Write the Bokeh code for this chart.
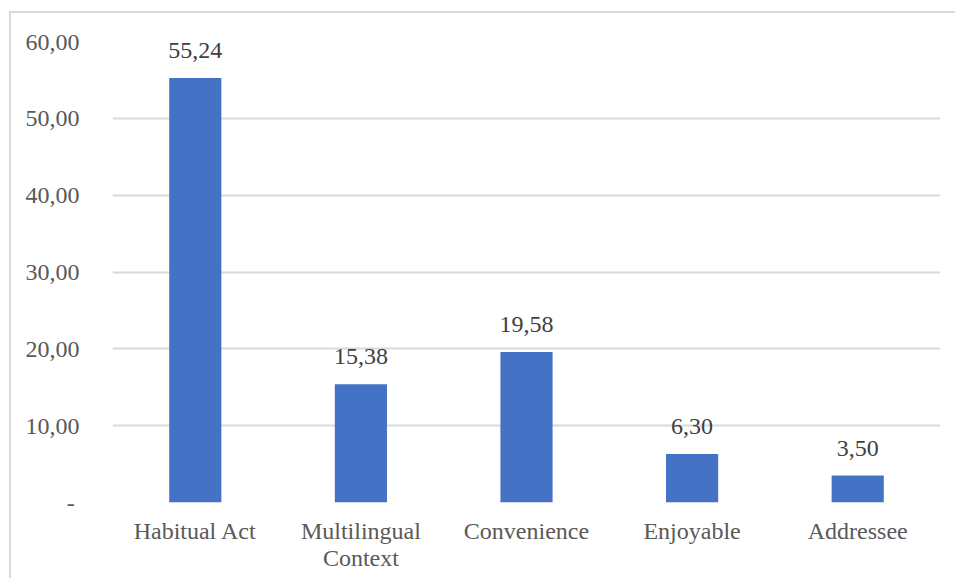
from bokeh.plotting import figure
from bokeh.models import ColumnDataSource, FixedTicker
from bokeh.core.properties import value
from bokeh.embed import file_html
from bokeh.resources import INLINE

categories = ["Habitual Act", "Multilingual\nContext", "Convenience", "Enjoyable", "Addressee"]
values = [55.24, 15.38, 19.58, 6.30, 3.50]
value_labels = ["55,24", "15,38", "19,58", "6,30", "3,50"]
y_ticks = [0, 10, 20, 30, 40, 50, 60]
y_tick_labels = ["-\u2009", "10,00", "20,00", "30,00", "40,00", "50,00", "60,00"]

FONT = "Liberation Serif"

src = ColumnDataSource(dict(x=categories, top=values, label=value_labels))

p = figure(x_range=categories, y_range=(0, 60), width=946, height=567,
           output_backend="svg", toolbar_location=None,
           min_border_left=101, min_border_right=17, min_border_top=28, min_border_bottom=78)
p.outline_line_color = None
p.background_fill_color = "white"
p.border_fill_color = "white"
p.styles = {"margin-left": "9px", "margin-top": "11px",
            "border-left": "2px solid #d9d9d9", "border-top": "2px solid #d9d9d9"}

p.vbar(x="x", top="top", width=0.315, source=src, color="#4472C4", line_color=None)
p.text(x="x", y="top", text="label", source=src, text_align="center", text_baseline="bottom",
       y_offset=-20, text_font=value(FONT), text_font_size="24px", text_color="#404040")

p.yaxis.ticker = FixedTicker(ticks=y_ticks)
p.yaxis.major_label_overrides = {t: l for t, l in zip(y_ticks, y_tick_labels)}
p.yaxis.axis_line_color = None
p.yaxis.major_tick_line_color = None
p.yaxis.minor_tick_line_color = None
p.yaxis.major_label_standoff = 27
p.yaxis.major_label_text_font = FONT
p.yaxis.major_label_text_font_size = "24px"
p.yaxis.major_label_text_color = "#595959"

p.xaxis.axis_line_color = None
p.xaxis.major_tick_line_color = None
p.xaxis.major_label_standoff = 9
p.xaxis.major_label_text_font = FONT
p.xaxis.major_label_text_font_size = "24px"
p.xaxis.major_label_text_color = "#595959"
p.xaxis.major_label_text_line_height = 1.04

p.xgrid.grid_line_color = None
p.ygrid.grid_line_color = "#d9d9d9"
p.ygrid.grid_line_width = 2

open("out.html", "w").write(file_html(p, INLINE))
